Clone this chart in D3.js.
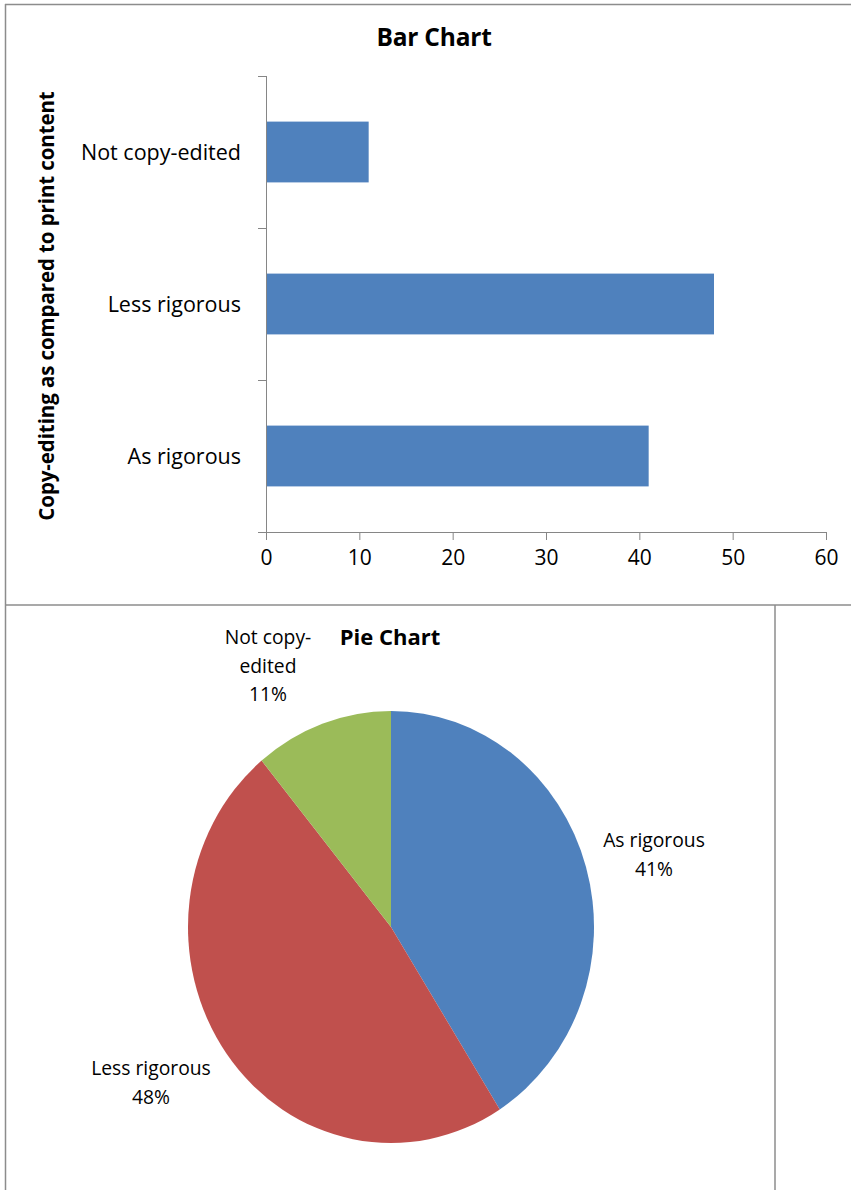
<!DOCTYPE html>
<html>
<head>
<meta charset="utf-8">
<script src="https://cdn.jsdelivr.net/npm/d3@7"></script>
<style>
  body { margin: 0; background: #fff; }
  svg { display: block; }
  text { font-family: "Open Sans", Lato, sans-serif; fill: #000; }
</style>
</head>
<body>
<svg id="chart" width="851" height="1190"></svg>
<script>
// bar chart data
const categories = ["Not copy-edited", "Less rigorous", "As rigorous"];
const barValues = [11, 48, 41];
const xTicks = [0, 10, 20, 30, 40, 50, 60];

// pie chart data (clockwise from 12 o'clock)
const pieLabels = [["As rigorous"], ["Less rigorous"], ["Not copy-", "edited"]];
const pieShares = [41, 48, 11];
const pieColors = ["#4F81BD", "#C0504D", "#9BBB59"];

const svg = d3.select("#chart");
const frame = "#8c8c8c";

// panel borders
svg.append("line").attr("x1", 5).attr("x2", 851).attr("y1", 4.5).attr("y2", 4.5)
  .attr("stroke", frame).attr("stroke-width", 1.5);
svg.append("line").attr("x1", 5.5).attr("x2", 5.5).attr("y1", 4).attr("y2", 1190)
  .attr("stroke", frame).attr("stroke-width", 1.5);
svg.append("line").attr("x1", 5).attr("x2", 851).attr("y1", 605).attr("y2", 605)
  .attr("stroke", frame).attr("stroke-width", 1.5);
svg.append("line").attr("x1", 775).attr("x2", 775).attr("y1", 605).attr("y2", 1190)
  .attr("stroke", frame).attr("stroke-width", 1.5);

// ---- bar chart ----
const x = d3.scaleLinear().domain([0, 60]).range([266, 826]);
const y = d3.scaleBand().domain(categories).range([76, 532]).paddingInner(0.6).paddingOuter(0.3);
const axisColor = "#868686";

svg.append("text")
  .text("Bar Chart")
  .attr("x", 434).attr("y", 46)
  .attr("text-anchor", "middle")
  .attr("font-size", 24.5).attr("font-weight", 700)
  .attr("letter-spacing", -0.2);

svg.selectAll("rect.bar")
  .data(barValues)
  .join("rect")
  .attr("class", "bar")
  .attr("x", x(0))
  .attr("y", (d, i) => y(categories[i]))
  .attr("width", d => x(d) - x(0))
  .attr("height", y.bandwidth())
  .attr("fill", "#4F81BD");

// x axis
const xAxis = svg.append("g").attr("transform", "translate(0,532)")
  .call(d3.axisBottom(x).tickValues(xTicks).tickSize(8).tickPadding(10).tickSizeOuter(0));
xAxis.select(".domain").remove();
xAxis.append("line").attr("x1", 258).attr("x2", x(60)).attr("y1", 0.5).attr("y2", 0.5)
  .attr("stroke", axisColor);
xAxis.selectAll(".tick line").attr("stroke", axisColor);
xAxis.selectAll(".tick text")
  .attr("font-size", 21).attr("font-family", "'Open Sans', sans-serif").attr("fill", "#000");

// y axis with ticks at band boundaries
const yEdges = d3.range(categories.length + 1).map(i => 76 + i * (532 - 76) / categories.length);
const yAxis = svg.append("g");
yAxis.append("line").attr("x1", 266.5).attr("x2", 266.5).attr("y1", 76).attr("y2", 532)
  .attr("stroke", axisColor);
yAxis.selectAll("line.tk")
  .data(yEdges)
  .join("line")
  .attr("class", "tk")
  .attr("x1", 258).attr("x2", 266)
  .attr("y1", d => d + 0.5).attr("y2", d => d + 0.5)
  .attr("stroke", axisColor);
yAxis.selectAll("text")
  .data(categories)
  .join("text")
  .text(d => d)
  .attr("x", 241)
  .attr("y", d => y(d) + y.bandwidth() / 2)
  .attr("dy", "0.35em")
  .attr("text-anchor", "end")
  .attr("font-size", 21.5);

svg.append("text")
  .text("Copy-editing as compared to print content")
  .attr("transform", "translate(54,306) rotate(-90)")
  .attr("text-anchor", "middle")
  .attr("font-size", 20.5).attr("font-weight", 700)
  .attr("letter-spacing", -0.1);

// ---- pie chart ----
const cx = 391, cy = 927, rx = 203, ry = 216;

svg.append("text")
  .text("Pie Chart")
  .attr("x", 390).attr("y", 645)
  .attr("text-anchor", "middle")
  .attr("font-size", 22).attr("font-weight", 700)
  .attr("letter-spacing", 0);

const pie = d3.pie().sort(null).value(d => d)(pieShares);
const arc = d3.arc().innerRadius(0).outerRadius(rx);

svg.append("g")
  .attr("transform", `translate(${cx},${cy}) scale(1,${ry / rx})`)
  .selectAll("path")
  .data(pie)
  .join("path")
  .attr("d", arc)
  .attr("fill", (d, i) => pieColors[i]);

const labelPos = [[654, 847], [151, 1075], [268, 644]];
pieLabels.forEach((lines, i) => {
  const t = svg.append("text")
    .attr("text-anchor", "middle")
    .attr("font-size", 19.3);
  lines.concat([pieShares[i] + "%"]).forEach((s, j) => {
    t.append("tspan").attr("x", labelPos[i][0]).attr("y", labelPos[i][1] + j * 28.5).text(s);
  });
});
</script>
</body>
</html>
